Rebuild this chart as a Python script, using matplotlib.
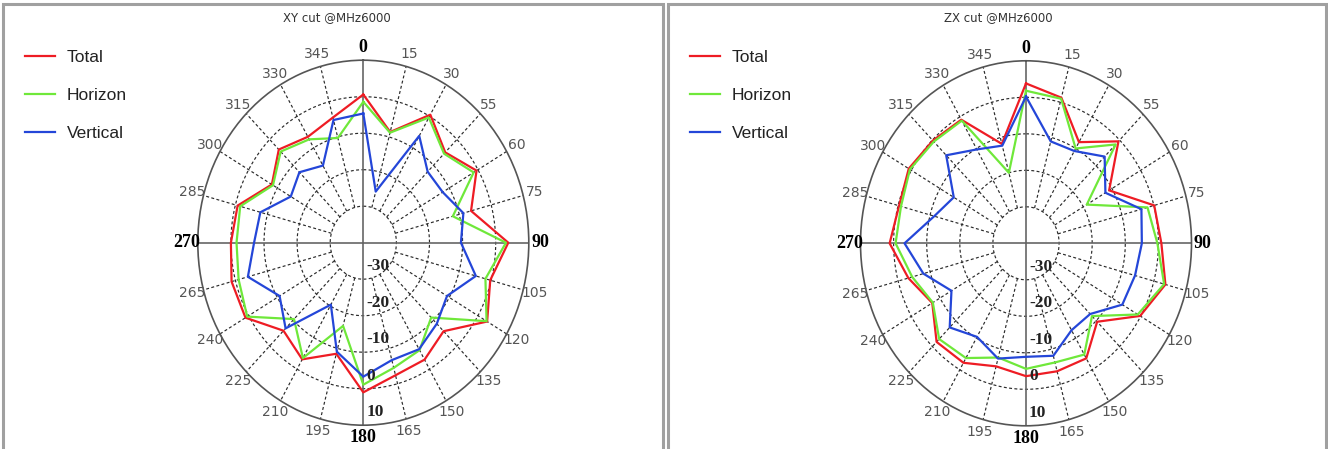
import numpy as np
import matplotlib.pyplot as plt
from matplotlib import font_manager
from matplotlib.patches import Rectangle
from matplotlib.transforms import offset_copy

# angles in degrees, clockwise from the top
angles = [0, 15, 30, 45, 60, 75, 90, 105, 120, 135, 150, 165,
          180, 195, 210, 225, 240, 255, 270, 285, 300, 315, 330, 345]
# tick labels as printed on the original (typos included)
angle_labels = ['0', '15', '30', '55', '60', '75', '90', '105', '120', '135', '150', '165',
                '180', '195', '210', '225', '240', '265', '270', '285', '300', '315', '330', '345']
r_ticks = [-30, -20, -10, 0, 10]

# XY cut (dB)
total_xy = [0.6, -8.6, 0.5, -5.0, -0.5, -6.3, 3.8, -0.3, 3.2, -5.7, -3.0, -2.4,
            1.0, -8.5, -3.1, -5.9, 1.1, 1.2, 0.0, -0.7, -8.1, -3.9, -6.5, -4.5]
horizon_xy = [-1.4, -8.8, -0.4, -5.5, -1.5, -12.0, 3.1, -1.8, 3.0, -11.0, -6.0, -4.5,
              -1.1, -16.4, -3.5, -10.4, 0.5, -1.0, -1.7, -1.5, -8.5, -4.7, -7.3, -10.3]
vertical_xy = [-4.6, -25.5, -6.2, -12.5, -12.3, -8.7, -10.5, -4.8, -10.8, -8.6, -6.3, -6.7,
               -3.3, -9.1, -20.4, -6.8, -10.8, -3.9, -7.0, -7.8, -14.7, -12.7, -15.6, -5.2]

# ZX cut (dB)
total_zx = [3.8, 1.3, -8.0, -0.5, -11.0, 0.1, 0.9, 3.6, -0.2, -9.6, -3.6, -3.7,
            -3.6, -5.1, -2.2, -1.8, -7.3, -3.2, 1.2, -0.3, 0.9, -0.2, -0.9, -11.8]
horizon_zx = [1.8, 1.0, -10.0, -1.7, -18.8, -2.0, -0.3, 3.2, -1.0, -11.8, -4.8, -6.2,
              -5.6, -7.6, -3.7, -2.9, -7.5, -4.4, -0.6, -0.9, 0.5, -0.6, -1.2, -20.0]
vertical_zx = [0.2, -11.1, -10.8, -6.4, -12.3, -3.9, -5.0, -5.9, -6.4, -12.6, -12.5, -8.1,
               -8.9, -7.3, -10.4, -7.4, -14.0, -7.9, -3.3, -11.3, -14.8, -5.9, -10.3, -12.3]

RED, GREEN, BLUE = '#ee1c24', '#6fe83a', '#2446d8'

names = {f.name for f in font_manager.fontManager.ttflist}
leg_font = 'Liberation Sans Narrow' if 'Liberation Sans Narrow' in names else 'Liberation Sans'

W, H = 1328, 449
fig = plt.figure(figsize=(W / 100, H / 100), dpi=100)

# panel frames
for x0, x1 in [(3, 663), (668, 1326)]:
    fig.add_artist(Rectangle((x0 / W, -0.05), (x1 - x0) / W, 1.05 - 4 / H,
                             transform=fig.transFigure, fill=False,
                             edgecolor='#a0a0a0', lw=2.2))


def panel(cx, cy, title, title_x, total, horizon, vertical, leg_x):
    rx, ry = 165.5, 182.5
    ax = fig.add_axes([(cx - rx) / W, (H - cy - ry) / H, 2 * rx / W, 2 * ry / H],
                      projection='polar')
    ax.set_aspect('auto')
    ax.set_theta_zero_location('N')
    ax.set_theta_direction(-1)
    ax.set_ylim(-40, 10)
    ax.grid(False)
    ax.set_xticks([])
    ax.set_yticks([])
    ax.spines['polar'].set_color('#555555')
    ax.spines['polar'].set_linewidth(1.2)

    grid_kw = dict(color='#2a2a2a', lw=0.85, ls=(0, (2.5, 2)), zorder=1)
    ring = np.linspace(0, 2 * np.pi, 361)
    for r in r_ticks[:-1]:
        ax.plot(ring, np.full_like(ring, r), **grid_kw)
    for a in angles:
        th = np.deg2rad(a)
        if a % 90:
            ax.plot([th, th], [-30, 10], **grid_kw)
        else:
            ax.plot([th, th], [-40, 10], color='#666666', lw=1.2, zorder=1)

    th = np.deg2rad(angles + angles[:1])
    lines = []
    for vals, col, lab in [(total, RED, 'Total'), (horizon, GREEN, 'Horizon'),
                           (vertical, BLUE, 'Vertical')]:
        ln, = ax.plot(th, vals + vals[:1], color=col, lw=1.6, label=lab, zorder=3)
        lines.append(ln)

    for a, lab in zip(angles, angle_labels):
        if a % 90 == 0:
            ax.text(np.deg2rad(a), 13.4, lab, ha='center', va='center',
                    family='Liberation Serif', fontweight='bold', fontsize=13,
                    color='black', clip_on=False)
        else:
            ax.text(np.deg2rad(a), 13.5, lab, ha='center', va='center',
                    family='DejaVu Sans', fontsize=10, color='#555555', clip_on=False)

    trans = offset_copy(ax.transData, fig=fig, x=3, y=13, units='dots')
    for r in r_ticks:
        ax.text(np.pi, r, str(r), transform=trans, ha='left', va='center',
                family='Liberation Serif', fontweight='bold', fontsize=12.5,
                color='#222222', clip_on=False, zorder=4)

    fig.text(title_x / W, 1 - 18 / H, title, ha='center', va='center',
             fontsize=8.5, color='#333333')

    fig.legend(handles=lines, loc='upper left', bbox_to_anchor=(leg_x / W, 1 - 50 / H),
               frameon=False, prop={'family': leg_font, 'size': 12.5},
               handlelength=1.7, handletextpad=0.7, labelspacing=1.3,
               borderpad=0, borderaxespad=0, labelcolor='#222222')


panel(363.3, 242.7, 'XY cut @MHz6000', 336.5,
      total_xy, horizon_xy, vertical_xy, 25)
panel(1026.0, 243.3, 'ZX cut @MHz6000', 998.5,
      total_zx, horizon_zx, vertical_zx, 690)

fig.savefig('out.png', dpi=100)
